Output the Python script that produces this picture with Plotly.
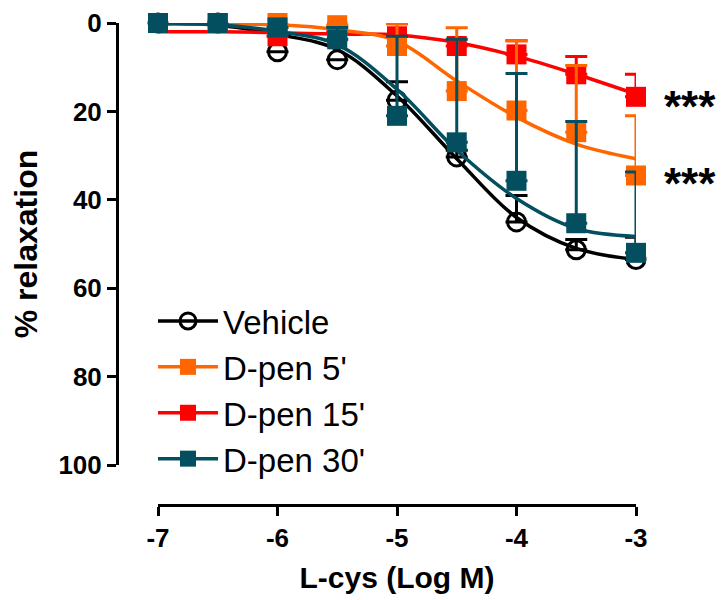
import plotly.graph_objects as go

# ---- data ----
log_conc = [-7, -6.5, -6, -5.5, -5, -4.5, -4, -3.5, -3]

vehicle_mean = [0, 0, 6.5, 8.3, 17.5, 30.3, 45.0, 51.3, 53.5]
vehicle_sem = [0, 0, 0, 0, 4.2, 1.5, 6.0, 2.3, 5.0]

dpen5_mean = [0, 0, 0, 0.5, 5.2, 15.4, 19.8, 24.7, 34.5]
dpen5_sem = [0, 0, 0, 0, 5.0, 14.3, 15.8, 15.1, 13.5]

dpen15_mean = [0, 0, 3.0, 2.0, 3.0, 5.2, 7.1, 11.6, 16.7]
dpen15_sem = [0, 0, 0, 0, 0, 0, 3.1, 4.0, 5.1]

dpen30_mean = [0, 0, 1.0, 3.7, 21.0, 27.0, 35.7, 45.3, 52.0]
dpen30_sem = [0, 0, 0, 2.7, 18.0, 23.3, 24.3, 23.0, 18.3]

# fitted curves at the same concentrations
vehicle_fit = [0.2, 0.5, 2.6, 6.0, 16.5, 30.7, 44.0, 51.0, 53.5]
dpen5_fit = [0.0, 0.2, 0.4, 1.5, 4.1, 13.1, 21.3, 27.4, 30.7]
dpen15_fit = [2.0, 2.0, 2.2, 2.5, 2.7, 4.4, 7.5, 11.6, 16.1]
dpen30_fit = [0.0, 0.4, 1.9, 4.9, 15.0, 28.8, 39.7, 46.5, 48.3]

series_names = ["Vehicle", "D-pen 5'", "D-pen 15'", "D-pen 30'"]
x_ticks = [-7, -6, -5, -4, -3]
y_ticks = [0, 20, 40, 60, 80, 100]
sig_labels = ["***", "***"]
sig_y = [19.0, 36.4]

# ---- styles ----
BLACK = "#000000"
ORANGE = "#FF6600"
RED = "#FF0000"
TEAL = "#034E5F"
FONT = "Arial, Liberation Sans, sans-serif"

series = [
    # name, mean, sem, fit, color, symbol, rank
    (series_names[0], vehicle_mean, vehicle_sem, vehicle_fit, BLACK, "circle-open", 1),
    (series_names[2], dpen15_mean, dpen15_sem, dpen15_fit, RED, "square", 3),
    (series_names[1], dpen5_mean, dpen5_sem, dpen5_fit, ORANGE, "square", 2),
    (series_names[3], dpen30_mean, dpen30_sem, dpen30_fit, TEAL, "square", 4),
]

fig = go.Figure()

for name, mean, sem, fit, color, symbol, rank in series:
    # fitted curve
    fig.add_trace(go.Scatter(
        x=log_conc, y=fit, mode="lines",
        line=dict(color=color, width=3.5, shape="spline", smoothing=1.0),
        showlegend=False, hoverinfo="skip",
    ))
    # data points with one-sided SEM bars
    if symbol == "circle-open":
        marker = dict(symbol=symbol, size=18, color=color, line=dict(width=3, color=color))
    else:
        marker = dict(symbol=symbol, size=20, color=color, line=dict(width=0))
    fig.add_trace(go.Scatter(
        x=log_conc, y=mean, mode="markers",
        marker=marker,
        error_y=dict(type="data", symmetric=False,
                     array=[0] * len(sem), arrayminus=sem,
                     color=color, thickness=3, width=11),
        cliponaxis=False, showlegend=False,
    ))
    # legend entry
    fig.add_trace(go.Scatter(
        x=[None], y=[None], mode="lines+markers", name=name,
        line=dict(color=color, width=3.5),
        marker=marker, legendrank=rank,
    ))

for lab, yv in zip(sig_labels, sig_y):
    fig.add_annotation(
        x=-3, y=yv, xref="x", yref="y", text=lab, showarrow=False,
        xanchor="left", yanchor="middle", xshift=26,
        font=dict(family=FONT, size=44, color=BLACK, weight="bold"),
    )

# the page body adds an 8 px offset, so the figure is 8 px smaller
W, H = 718, 592
L, R, T, B = 109, 90, 15, 95
pw, ph = W - L - R, H - T - B
plot_bottom = H - B

fig.update_layout(
    width=W, height=H,
    margin=dict(l=L, r=R, t=T, b=B, autoexpand=False),
    paper_bgcolor="white", plot_bgcolor="white",
    font=dict(family=FONT, color=BLACK),
    showlegend=True,
    legend=dict(
        x=(145 - L) / pw, y=(plot_bottom - 285) / ph, xanchor="left", yanchor="top",
        font=dict(family=FONT, size=33, color=BLACK),
        bgcolor="rgba(0,0,0,0)", itemsizing="trace", tracegroupgap=0,
        itemwidth=60,
    ),
    xaxis=dict(
        domain=[(150 - L) / pw, 1], range=[-7, -3],
        anchor="free", position=0, automargin=True,
        ticklabeloverflow="allow",
        tickvals=x_ticks, ticktext=[str(v) for v in x_ticks],
        showline=True, linewidth=3, linecolor=BLACK,
        ticks="outside", ticklen=9, tickwidth=3, tickcolor=BLACK,
        showgrid=False, zeroline=False,
        tickfont=dict(family=FONT, size=26, color=BLACK, weight="bold"),
        title=dict(text="L-cys (Log M)", standoff=14,
                   font=dict(family=FONT, size=30, color=BLACK, weight="bold")),
    ),
    yaxis=dict(
        domain=[(plot_bottom - 457) / ph, 1], range=[100, 0],
        anchor="free", position=0, automargin=True,
        ticklabeloverflow="allow",
        tickvals=y_ticks,
        showline=True, linewidth=3, linecolor=BLACK,
        ticks="outside", ticklen=9, tickwidth=3, tickcolor=BLACK,
        showgrid=False, zeroline=False,
        tickfont=dict(family=FONT, size=26, color=BLACK, weight="bold"),
        title=dict(text="% relaxation", standoff=16,
                   font=dict(family=FONT, size=32, color=BLACK, weight="bold")),
    ),
)

fig.write_html("out.html")
